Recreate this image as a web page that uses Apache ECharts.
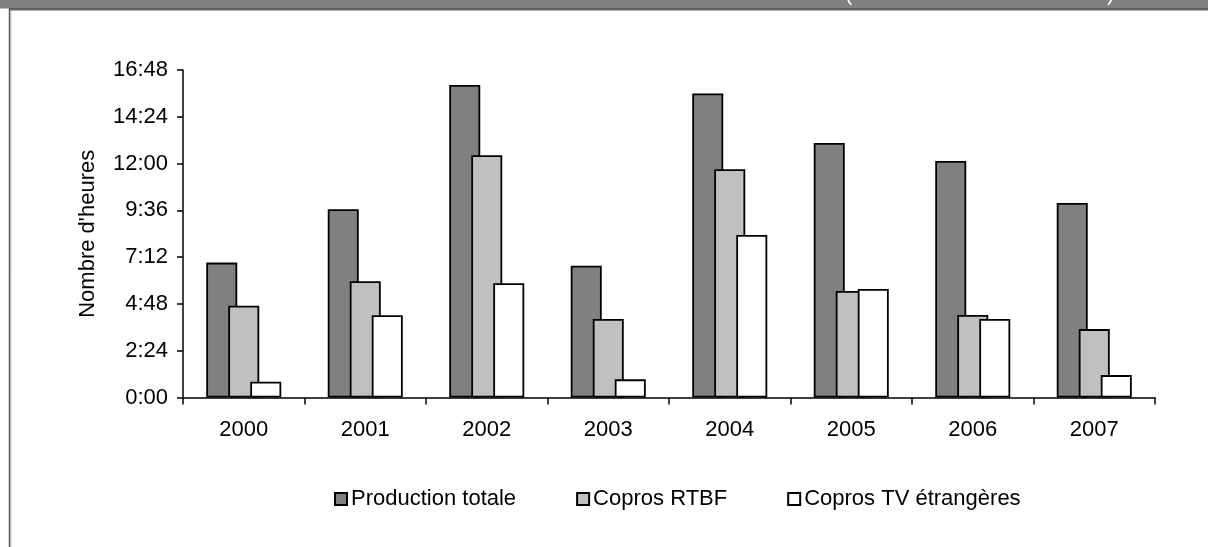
<!DOCTYPE html>
<html>
<head>
<meta charset="utf-8">
<script src="https://cdn.jsdelivr.net/npm/echarts@6/dist/echarts.min.js"></script>
<style>
  html, body { margin: 0; padding: 0; background: #fff; }
  #chart { width: 1208px; height: 547px; }
</style>
</head>
<body>
<div id="chart"></div>
<script>
// Years on the category axis
const years = ['2000', '2001', '2002', '2003', '2004', '2005', '2006', '2007'];

// Hours per year (decimal hours)
const productionTotale = [6.92, 9.66, 16.03, 6.76, 15.60, 13.06, 12.13, 9.98];
const coprosRTBF = [4.71, 5.96, 12.43, 4.03, 11.71, 5.46, 4.23, 3.51];
const coprosTVEtrangeres = [0.81, 4.22, 5.86, 0.93, 8.34, 5.57, 4.03, 1.15];

const seriesNames = ['Production totale', 'Copros RTBF', 'Copros TV étrangères'];

// Value axis runs in minutes: 0:00 to 16:48 in steps of 2:24
const axisMaxMinutes = 1008;
const axisStepMinutes = 144;

const FONT = '"Liberation Sans", Arial, Helvetica, sans-serif';
const toMinutes = arr => arr.map(h => h * 60);
const fmtHM = m => {
  const total = Math.round(m);
  const h = Math.floor(total / 60);
  const mm = total % 60;
  return h + ':' + (mm < 10 ? '0' : '') + mm;
};

const chart = echarts.init(document.getElementById('chart'), null, { renderer: 'canvas' });

const barBase = {
  type: 'bar',
  barWidth: 31,
  barGap: '-29%',
  barCategoryGap: '38%',
  emphasis: { disabled: true }
};

chart.setOption({
  animation: false,
  backgroundColor: '#fff',
  textStyle: { fontFamily: FONT },
  grid: { left: 183, right: 53, top: 70, bottom: 149.5, containLabel: false },
  legend: {
    data: seriesNames,
    left: 329,
    top: 483,
    icon: 'rect',
    itemWidth: 12,
    itemHeight: 12,
    itemGap: 60,
    textStyle: { fontSize: 22, color: '#000', fontFamily: FONT, padding: [0, 0, 0, -1] },
    selectedMode: false
  },
  xAxis: {
    type: 'category',
    data: years,
    axisLine: { lineStyle: { color: '#000', width: 1.5 } },
    axisTick: { show: true, length: 7, lineStyle: { color: '#000', width: 1.5 } },
    axisLabel: { color: '#000', fontSize: 22, fontFamily: FONT, margin: 21 },
    splitLine: { show: false }
  },
  yAxis: {
    type: 'value',
    min: 0,
    max: axisMaxMinutes,
    interval: axisStepMinutes,
    name: "Nombre d'heures",
    nameLocation: 'middle',
    nameRotate: 90,
    nameGap: 84,
    nameTextStyle: { color: '#000', fontSize: 22, fontFamily: FONT },
    axisLine: { show: true, lineStyle: { color: '#000', width: 1.5 } },
    axisTick: { show: true, length: 6, lineStyle: { color: '#000', width: 1.5 } },
    axisLabel: { color: '#000', fontSize: 22, fontFamily: FONT, margin: 15, formatter: fmtHM },
    splitLine: { show: false }
  },
  series: [
    Object.assign({}, barBase, {
      name: seriesNames[0],
      data: toMinutes(productionTotale),
      itemStyle: { color: '#808080', borderColor: '#000', borderWidth: 1.8 }
    }),
    Object.assign({}, barBase, {
      name: seriesNames[1],
      data: toMinutes(coprosRTBF),
      itemStyle: { color: '#c0c0c0', borderColor: '#000', borderWidth: 1.8 }
    }),
    Object.assign({}, barBase, {
      name: seriesNames[2],
      data: toMinutes(coprosTVEtrangeres),
      itemStyle: { color: '#ffffff', borderColor: '#000', borderWidth: 1.8 }
    })
  ],
  graphic: [
    // header band across the top with its edge lines
    { type: 'rect', shape: { x: 0, y: 0, width: 1208, height: 8.5 }, style: { fill: '#808080' }, silent: true },
    { type: 'line', shape: { x1: 9, y1: 9, x2: 1208, y2: 9 }, style: { stroke: '#3a3a3a', lineWidth: 1.5 }, silent: true },
    { type: 'line', shape: { x1: 10, y1: 10.5, x2: 1208, y2: 10.5 }, style: { stroke: '#a8a8a8', lineWidth: 1 }, silent: true },
    // left frame edge
    { type: 'line', shape: { x1: 9.5, y1: 8, x2: 9.5, y2: 547 }, style: { stroke: '#5a5a5a', lineWidth: 1.5 }, silent: true },
    { type: 'line', shape: { x1: 10.8, y1: 10, x2: 10.8, y2: 547 }, style: { stroke: '#b0b0b0', lineWidth: 1 }, silent: true },
    // header title parentheses, clipped by the page top
    { type: 'text', left: 845, top: -17, style: { text: '(', fill: '#fff', font: '22px ' + FONT }, silent: true },
    { type: 'text', left: 1107, top: -17, style: { text: ')', fill: '#fff', font: '22px ' + FONT }, silent: true }
  ]
});
</script>
</body>
</html>
